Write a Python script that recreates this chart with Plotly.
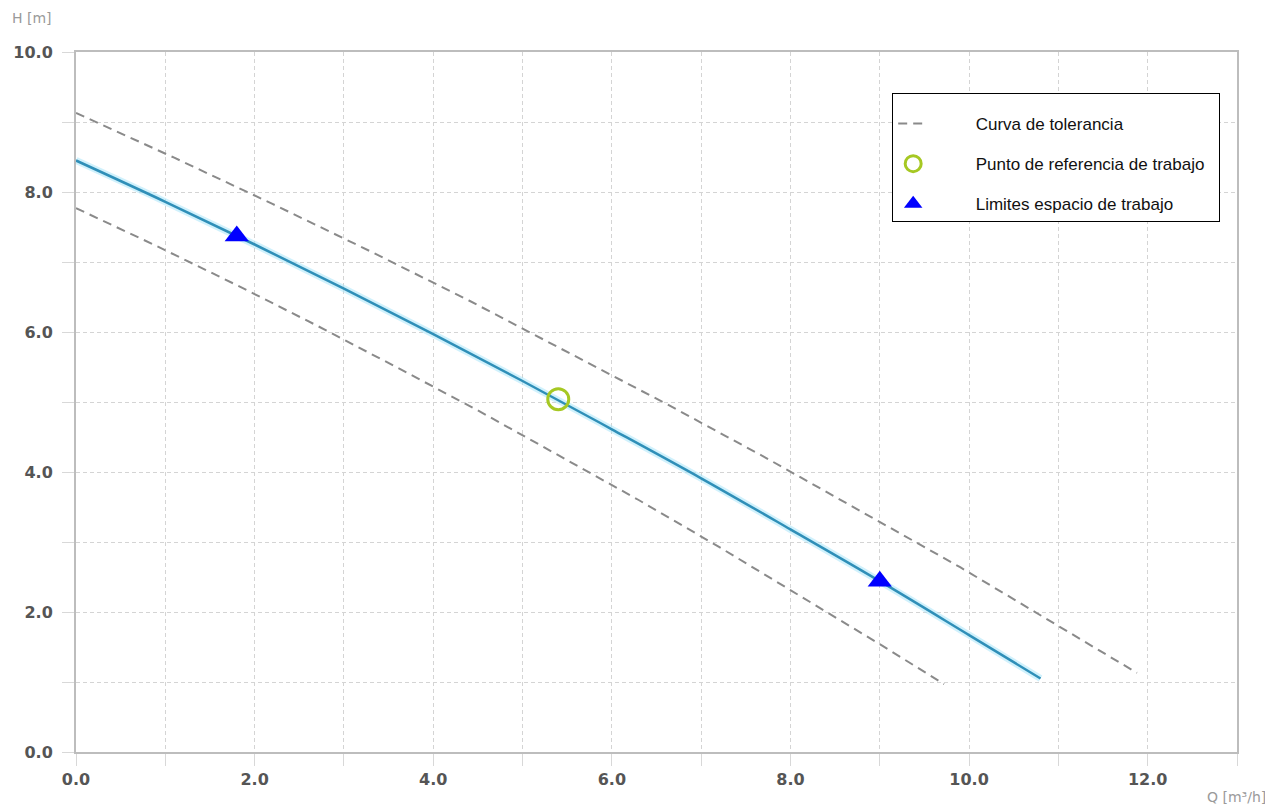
import plotly.graph_objects as go

# Main pump curve
q_main = [0.0, 1.0, 2.0, 3.0, 4.0, 5.0, 6.0, 7.0, 8.0, 9.0, 10.0, 10.8]
h_main = [8.45, 7.86, 7.25, 6.62, 5.97, 5.30, 4.61, 3.91, 3.18, 2.44, 1.67, 1.05]

# Upper tolerance curve
q_up = [0.0, 1.1, 2.2, 3.3, 4.4, 5.5, 6.6, 7.7, 8.8, 9.9, 11.0, 11.88]
h_up = [9.13, 8.49, 7.83, 7.15, 6.45, 5.72, 4.98, 4.22, 3.43, 2.64, 1.80, 1.13]

# Lower tolerance curve
q_low = [0.0, 0.9, 1.8, 2.7, 3.6, 4.5, 5.4, 6.3, 7.2, 8.1, 9.0, 9.72]
h_low = [7.77, 7.23, 6.67, 6.09, 5.49, 4.88, 4.24, 3.60, 2.93, 2.24, 1.54, 0.97]

# Working reference point
q_ref = [5.4]
h_ref = [5.04]

# Working space limits
q_lim = [1.8, 9.0]
h_lim = [7.37, 2.44]

legend_names = ["Curva de tolerancia", "Punto de referencia de trabajo", "Limites espacio de trabajo"]

pad = "\u00a0" * 9   # spacing between legend symbol and text
tail = "\u00a0" * 2  # right padding inside legend box

fig = go.Figure()

dash_style = dict(color="#8a8a8a", width=2, dash="9px,6px")

fig.add_trace(go.Scatter(x=q_up, y=h_up, mode="lines", line=dash_style,
                         name=pad + legend_names[0] + tail, legendgroup="g1", showlegend=True,
                         hoverinfo="skip"))
fig.add_trace(go.Scatter(x=q_low, y=h_low, mode="lines", line=dash_style,
                         name=pad + legend_names[0] + tail, legendgroup="g1", showlegend=False,
                         hoverinfo="skip"))
# glow under main line
fig.add_trace(go.Scatter(x=q_main, y=h_main, mode="lines", line_shape="spline",
                         line=dict(color="rgba(170,230,250,0.55)", width=7),
                         showlegend=False, hoverinfo="skip"))
fig.add_trace(go.Scatter(x=q_main, y=h_main, mode="lines", line_shape="spline",
                         line=dict(color="#2f8fb8", width=2.5),
                         showlegend=False))
fig.add_trace(go.Scatter(x=q_ref, y=h_ref, mode="markers",
                         marker=dict(symbol="circle-open", size=21, color="#a6c823",
                                     line=dict(width=3, color="#a6c823")),
                         name=pad + legend_names[1] + tail, legendgroup="g2"))
fig.add_trace(go.Scatter(x=q_lim, y=h_lim, mode="markers",
                         marker=dict(symbol="triangle-up", size=21, color="#0000ff"),
                         name=pad + legend_names[2] + tail, legendgroup="g3"))

axis_common = dict(
    showline=True, linecolor="#bdbdbd", linewidth=2, mirror=True,
    showgrid=True, gridcolor="#d4d4d4", griddash="4px,3px", gridwidth=1,
    zeroline=False, tickformat=".1f", automargin=False,
    tickfont=dict(family="DejaVu Sans, Verdana, sans-serif", size=16, color="#555555",
                  weight="bold"),
    ticks="outside", ticklen=12, tickcolor="#d8d8d8",
    minor=dict(dtick=1, showgrid=True, gridcolor="#d4d4d4", griddash="4px,3px",
               ticks="outside", ticklen=12, tickcolor="#d8d8d8"),
)

fig.update_xaxes(range=[0, 13], dtick=2, tick0=0, **axis_common)
fig.update_yaxes(range=[0, 10], dtick=2, tick0=0, ticklabelstandoff=6, **axis_common)

label_font = dict(family="DejaVu Sans, Verdana, sans-serif", size=14, color="#9a9a9a")

# page body has an 8px offset, so the figure is sized to the visible area
fig.update_layout(
    width=1265, height=798,
    margin=dict(l=68, r=36, t=44, b=54),
    paper_bgcolor="white", plot_bgcolor="white",
    showlegend=True,
    legend=dict(
        x=0.703, y=0.941, xanchor="left", yanchor="top",
        bgcolor="white", bordercolor="#000000", borderwidth=1,
        font=dict(family="Liberation Sans, Arial, sans-serif", size=17, color="#111111"),
        tracegroupgap=15, itemwidth=30,
        title=dict(text=" ", font=dict(size=9)),
    ),
    annotations=[
        dict(text="H [m]", x=-0.0568, y=1.0486, xref="paper", yref="paper", showarrow=False,
             font=label_font, xanchor="left", yanchor="middle"),
        dict(text="Q [m³/h]", x=1.0267, y=-0.064, xref="paper", yref="paper", showarrow=False,
             font=label_font, xanchor="right", yanchor="middle"),
    ],
)

fig.write_html("out.html")
